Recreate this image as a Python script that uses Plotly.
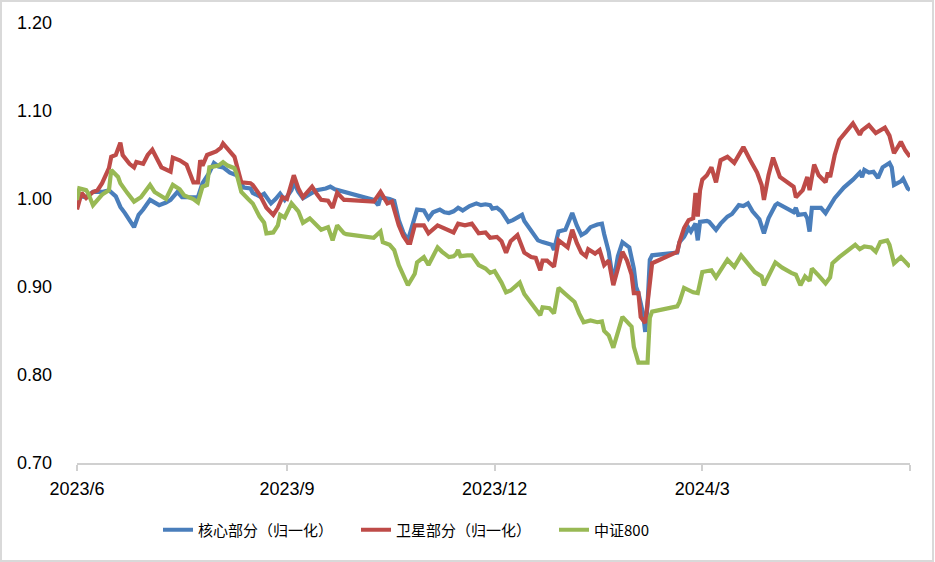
import plotly.graph_objects as go

# ---------------- data ----------------
core_dates = ["2023-06-01","2023-06-03","2023-06-05","2023-06-08","2023-06-12","2023-06-15","2023-06-18","2023-06-20",
"2023-06-22","2023-06-24","2023-06-26","2023-06-28","2023-06-30","2023-07-03","2023-07-07","2023-07-10","2023-07-12",
"2023-07-15","2023-07-17","2023-07-19","2023-07-24","2023-07-25","2023-07-26","2023-07-29","2023-07-31","2023-08-02",
"2023-08-04","2023-08-07","2023-08-10","2023-08-13","2023-08-16","2023-08-17","2023-08-20","2023-08-22","2023-08-25",
"2023-08-27","2023-08-29","2023-08-31","2023-09-03","2023-09-04","2023-09-06","2023-09-08","2023-09-11","2023-09-14",
"2023-09-18","2023-09-20","2023-09-22","2023-09-25","2023-09-27","2023-10-09","2023-10-11","2023-10-12","2023-10-16",
"2023-10-18","2023-10-20","2023-10-22","2023-10-24","2023-10-25","2023-10-27","2023-10-28","2023-10-31","2023-11-02",
"2023-11-04","2023-11-07","2023-11-09","2023-11-11","2023-11-13","2023-11-15","2023-11-17","2023-11-20","2023-11-23",
"2023-11-25","2023-11-27","2023-11-29","2023-11-30","2023-12-02","2023-12-04","2023-12-05","2023-12-07","2023-12-09",
"2023-12-13","2023-12-14","2023-12-16","2023-12-18","2023-12-20","2023-12-22","2023-12-24","2023-12-26","2023-12-27",
"2023-12-29","2024-01-01","2024-01-04","2024-01-06","2024-01-08","2024-01-10","2024-01-12","2024-01-15","2024-01-17",
"2024-01-18","2024-01-20","2024-01-22","2024-01-24","2024-01-26","2024-01-29","2024-01-31","2024-02-01","2024-02-02",
"2024-02-04","2024-02-05","2024-02-06","2024-02-07","2024-02-08","2024-02-19","2024-02-20","2024-02-22","2024-02-24",
"2024-02-25","2024-02-27","2024-02-28","2024-02-29","2024-03-03","2024-03-04","2024-03-07","2024-03-09","2024-03-12",
"2024-03-14","2024-03-17","2024-03-19","2024-03-21","2024-03-23","2024-03-26","2024-03-28","2024-03-30","2024-04-02",
"2024-04-03","2024-04-08","2024-04-10","2024-04-11","2024-04-12","2024-04-15","2024-04-16","2024-04-17","2024-04-18",
"2024-04-22","2024-04-24","2024-04-28","2024-05-02","2024-05-06","2024-05-09","2024-05-10","2024-05-11","2024-05-13",
"2024-05-15","2024-05-17","2024-05-19","2024-05-22","2024-05-23","2024-05-24","2024-05-27","2024-05-28","2024-05-30",
"2024-05-31"]
core_values = [0.999,1.003,1.002,1.008,1.008,1.010,1.003,0.991,
0.984,0.977,0.968,0.982,0.988,0.999,0.993,0.996,0.999,
1.008,1.002,1.002,1.002,1.010,1.018,1.030,1.041,1.037,
1.036,1.030,1.027,1.013,1.012,1.007,1.003,1.006,0.995,
1.000,1.006,0.999,1.010,1.019,1.008,1.001,1.006,1.010,
1.012,1.014,1.011,1.009,1.007,0.999,0.993,1.002,1.000,
0.998,0.976,0.962,0.953,0.962,0.980,0.988,0.987,0.978,
0.985,0.988,0.985,0.984,0.986,0.990,0.987,0.992,0.995,
0.993,0.994,0.993,0.989,0.990,0.986,0.982,0.974,0.976,
0.982,0.975,0.967,0.960,0.953,0.951,0.950,0.948,0.942,
0.963,0.965,0.984,0.970,0.959,0.962,0.968,0.971,0.972,
0.960,0.940,0.905,0.935,0.951,0.945,0.921,0.900,0.893,
0.870,0.849,0.880,0.931,0.936,0.939,0.951,0.957,0.967,
0.963,0.972,0.953,0.974,0.975,0.974,0.965,0.972,0.980,
0.983,0.993,0.992,0.995,0.986,0.977,0.961,0.978,0.993,
0.995,0.988,0.985,0.990,0.982,0.983,0.978,0.963,0.990,
0.990,0.984,1.001,1.013,1.022,1.030,1.025,1.033,1.030,
1.031,1.024,1.036,1.041,1.036,1.016,1.020,1.023,1.012,
1.010]

sat_dates = ["2023-06-01","2023-06-03","2023-06-05","2023-06-08","2023-06-10","2023-06-12","2023-06-15","2023-06-16",
"2023-06-18","2023-06-20","2023-06-21","2023-06-24","2023-06-26","2023-06-27","2023-06-30","2023-07-02","2023-07-04",
"2023-07-06","2023-07-08","2023-07-12","2023-07-13","2023-07-16","2023-07-19","2023-07-22","2023-07-24","2023-07-25",
"2023-07-26","2023-07-28","2023-08-01","2023-08-03","2023-08-04","2023-08-06","2023-08-09","2023-08-12","2023-08-16",
"2023-08-17","2023-08-20","2023-08-22","2023-08-23","2023-08-26","2023-08-28","2023-08-30","2023-09-01","2023-09-04",
"2023-09-06","2023-09-08","2023-09-10","2023-09-12","2023-09-14","2023-09-16","2023-09-19","2023-09-21","2023-09-23",
"2023-09-26","2023-09-27","2023-10-09","2023-10-12","2023-10-15","2023-10-17","2023-10-20","2023-10-22","2023-10-24",
"2023-10-25","2023-10-27","2023-10-31","2023-11-02","2023-11-06","2023-11-09","2023-11-13","2023-11-15","2023-11-18",
"2023-11-21","2023-11-24","2023-11-27","2023-11-29","2023-12-02","2023-12-04","2023-12-06","2023-12-08","2023-12-11",
"2023-12-13","2023-12-14","2023-12-17","2023-12-19","2023-12-21","2023-12-22","2023-12-24","2023-12-27","2023-12-29",
"2024-01-02","2024-01-04","2024-01-06","2024-01-08","2024-01-10","2024-01-11","2024-01-14","2024-01-16","2024-01-18",
"2024-01-20","2024-01-22","2024-01-26","2024-01-28","2024-01-30","2024-01-31","2024-02-02","2024-02-03","2024-02-05",
"2024-02-06","2024-02-07","2024-02-08","2024-02-19","2024-02-20","2024-02-22","2024-02-24","2024-02-26","2024-02-27",
"2024-02-28","2024-02-29","2024-03-01","2024-03-03","2024-03-05","2024-03-07","2024-03-09","2024-03-12","2024-03-15",
"2024-03-19","2024-03-22","2024-03-25","2024-03-27","2024-03-28","2024-03-30","2024-04-01","2024-04-04","2024-04-08",
"2024-04-10","2024-04-11","2024-04-14","2024-04-16","2024-04-17","2024-04-19","2024-04-21","2024-04-24","2024-04-25",
"2024-04-26","2024-04-28","2024-04-30","2024-05-03","2024-05-06","2024-05-09","2024-05-10","2024-05-13","2024-05-16",
"2024-05-20","2024-05-22","2024-05-24","2024-05-27","2024-05-29","2024-05-31"]
sat_values = [0.988,1.007,1.001,1.008,1.010,1.018,1.035,1.048,
1.050,1.064,1.050,1.040,1.036,1.042,1.040,1.050,1.056,
1.045,1.036,1.031,1.047,1.044,1.039,1.019,1.019,1.044,
1.038,1.050,1.054,1.058,1.063,1.057,1.048,1.019,1.018,
1.016,1.005,0.995,0.990,0.982,0.990,1.002,1.000,1.027,
1.012,1.002,1.008,1.014,1.006,0.999,0.998,0.990,1.007,
0.999,0.999,0.997,1.008,0.995,0.997,0.970,0.958,0.950,
0.950,0.970,0.970,0.961,0.970,0.966,0.962,0.972,0.970,
0.972,0.961,0.962,0.956,0.957,0.952,0.939,0.952,0.959,
0.947,0.939,0.934,0.933,0.919,0.930,0.930,0.923,0.953,
0.945,0.965,0.950,0.939,0.935,0.943,0.938,0.942,0.925,
0.930,0.902,0.940,0.930,0.914,0.893,0.893,0.866,0.859,
0.885,0.911,0.927,0.940,0.951,0.967,0.976,0.978,1.007,
0.980,1.010,1.022,1.027,1.036,1.019,1.044,1.048,1.041,
1.059,1.044,1.030,1.016,0.999,1.027,1.047,1.025,1.018,
1.014,1.002,1.010,1.025,1.010,1.039,1.027,1.019,1.030,
1.025,1.050,1.067,1.076,1.086,1.073,1.078,1.084,1.075,
1.081,1.072,1.052,1.065,1.055,1.048]

csi_dates = ["2023-06-01","2023-06-02","2023-06-05","2023-06-06","2023-06-08","2023-06-10","2023-06-12","2023-06-15",
"2023-06-16","2023-06-19","2023-06-20","2023-06-23","2023-06-26","2023-06-29","2023-07-01","2023-07-03","2023-07-05",
"2023-07-07","2023-07-10","2023-07-13","2023-07-16","2023-07-18","2023-07-22","2023-07-24","2023-07-26","2023-07-28",
"2023-07-29","2023-08-02","2023-08-04","2023-08-06","2023-08-09","2023-08-10","2023-08-12","2023-08-15","2023-08-17",
"2023-08-20","2023-08-22","2023-08-23","2023-08-26","2023-08-28","2023-08-29","2023-08-31","2023-09-03","2023-09-06",
"2023-09-08","2023-09-11","2023-09-14","2023-09-16","2023-09-19","2023-09-21","2023-09-23","2023-09-26","2023-09-27",
"2023-10-09","2023-10-12","2023-10-13","2023-10-16","2023-10-18","2023-10-20","2023-10-22","2023-10-24","2023-10-27",
"2023-10-28","2023-10-31","2023-11-02","2023-11-04","2023-11-06","2023-11-08","2023-11-11","2023-11-13","2023-11-14",
"2023-11-15","2023-11-16","2023-11-19","2023-11-21","2023-11-24","2023-11-27","2023-11-29","2023-12-01","2023-12-04",
"2023-12-06","2023-12-08","2023-12-12","2023-12-14","2023-12-16","2023-12-18","2023-12-21","2023-12-22","2023-12-25",
"2023-12-27","2023-12-29","2024-01-01","2024-01-05","2024-01-07","2024-01-09","2024-01-12","2024-01-15","2024-01-17",
"2024-01-18","2024-01-20","2024-01-22","2024-01-26","2024-01-29","2024-01-30","2024-01-31","2024-02-02","2024-02-06",
"2024-02-07","2024-02-08","2024-02-19","2024-02-20","2024-02-22","2024-02-26","2024-02-28","2024-02-29","2024-03-01",
"2024-03-05","2024-03-07","2024-03-12","2024-03-15","2024-03-18","2024-03-20","2024-03-24","2024-03-27","2024-03-28",
"2024-04-02","2024-04-05","2024-04-09","2024-04-11","2024-04-13","2024-04-15","2024-04-17","2024-04-18","2024-04-21",
"2024-04-24","2024-04-26","2024-04-27","2024-04-30","2024-05-03","2024-05-07","2024-05-09","2024-05-11","2024-05-14",
"2024-05-16","2024-05-18","2024-05-21","2024-05-22","2024-05-24","2024-05-27","2024-05-29","2024-05-31"]
csi_values = [0.999,1.012,1.010,1.006,0.993,1.000,1.005,1.010,
1.033,1.025,1.018,1.007,0.997,1.002,1.010,1.016,1.008,
1.005,1.000,1.016,1.011,1.004,1.000,0.996,1.014,1.016,
1.036,1.038,1.042,1.038,1.035,1.028,1.008,1.000,0.995,
0.980,0.973,0.961,0.962,0.970,0.982,0.979,0.995,0.986,
0.973,0.978,0.970,0.965,0.968,0.953,0.970,0.961,0.960,
0.956,0.963,0.951,0.948,0.942,0.925,0.912,0.902,0.915,
0.928,0.934,0.925,0.935,0.945,0.940,0.934,0.935,0.937,
0.942,0.935,0.936,0.936,0.925,0.921,0.916,0.918,0.905,
0.894,0.896,0.905,0.892,0.885,0.878,0.868,0.877,0.876,
0.870,0.899,0.892,0.883,0.870,0.860,0.862,0.860,0.861,
0.850,0.845,0.831,0.866,0.857,0.855,0.832,0.814,0.814,
0.865,0.872,0.878,0.883,0.899,0.894,0.893,0.905,0.917,
0.919,0.911,0.931,0.923,0.936,0.930,0.917,0.912,0.902,
0.928,0.922,0.916,0.914,0.902,0.912,0.907,0.921,0.913,
0.904,0.911,0.927,0.934,0.940,0.948,0.943,0.946,0.945,
0.940,0.951,0.953,0.948,0.927,0.934,0.929,0.923]

series_names = ["核心部分（归一化）", "卫星部分（归一化）", "中证800"]
series_colors = ["#4a7ebb", "#be4b48", "#98b954"]

x_tick_vals = ["2023-06-01", "2023-09-01", "2023-12-01", "2024-03-01", "2024-05-31"]
x_tick_text = ["2023/6", "2023/9", "2023/12", "2024/3", ""]
y_tick_vals = [0.70, 0.80, 0.90, 1.00, 1.10, 1.20]

# ---------------- figure ----------------
fig = go.Figure()
for name, xs, ys, col in zip(series_names,
                             [core_dates, sat_dates, csi_dates],
                             [core_values, sat_values, csi_values],
                             series_colors):
    fig.add_trace(go.Scatter(x=xs, y=ys, mode="lines", name=name,
                             line=dict(color=col, width=4.2, shape="linear")))

W, H = 935, 562
ml, mr, mt, mb = 77, 25, 23, 99
pw, ph = W - ml - mr, H - mt - mb

fig.update_layout(
    width=W, height=H,
    margin=dict(l=ml, r=mr, t=mt, b=mb, pad=0, autoexpand=False),
    paper_bgcolor="white", plot_bgcolor="white",
    font=dict(family="Liberation Sans, Arial, sans-serif", color="#000000", size=18),
    showlegend=True,
    legend=dict(orientation="h", x=(158 - ml) / pw, xanchor="left",
                y=(mt + ph - 530) / ph, yanchor="middle",
                font=dict(family="Noto Sans CJK SC, sans-serif", size=15, color="#000000"),
                entrywidth=153, itemwidth=30, bgcolor="rgba(0,0,0,0)",
                traceorder="normal"),
    xaxis=dict(type="date", range=["2023-06-01", "2024-05-31"], automargin=False,
               tickmode="array", tickvals=x_tick_vals, ticktext=x_tick_text,
               showgrid=False, zeroline=False,
               showline=True, linecolor="#d0d0d0", linewidth=2,
               ticks="outside", ticklen=6, tickwidth=1.5, tickcolor="#d0d0d0",
               ticklabelstandoff=2,
               tickfont=dict(size=18, family="Liberation Sans, Arial, sans-serif")),
    yaxis=dict(range=[0.70, 1.20], tickmode="array", tickvals=y_tick_vals, automargin=False,
               tickformat=".2f", showgrid=False, zeroline=False, showline=False,
               ticks="", ticklabelstandoff=24,
               tickfont=dict(size=18, family="Liberation Sans, Arial, sans-serif")),
    shapes=[dict(type="rect", xref="paper", yref="paper",
                 x0=(1 - ml) / pw, x1=(W - 2 - ml) / pw,
                 y0=(mt + ph - (H - 1)) / ph, y1=(mt + ph - 1) / ph,
                 line=dict(color="#d9d9d9", width=2), fillcolor="rgba(0,0,0,0)",
                 layer="below")],
)

fig.write_html("out.html",
               config={"displayModeBar": False},
               post_script="document.body.style.margin='0';document.body.style.overflow='hidden';")
